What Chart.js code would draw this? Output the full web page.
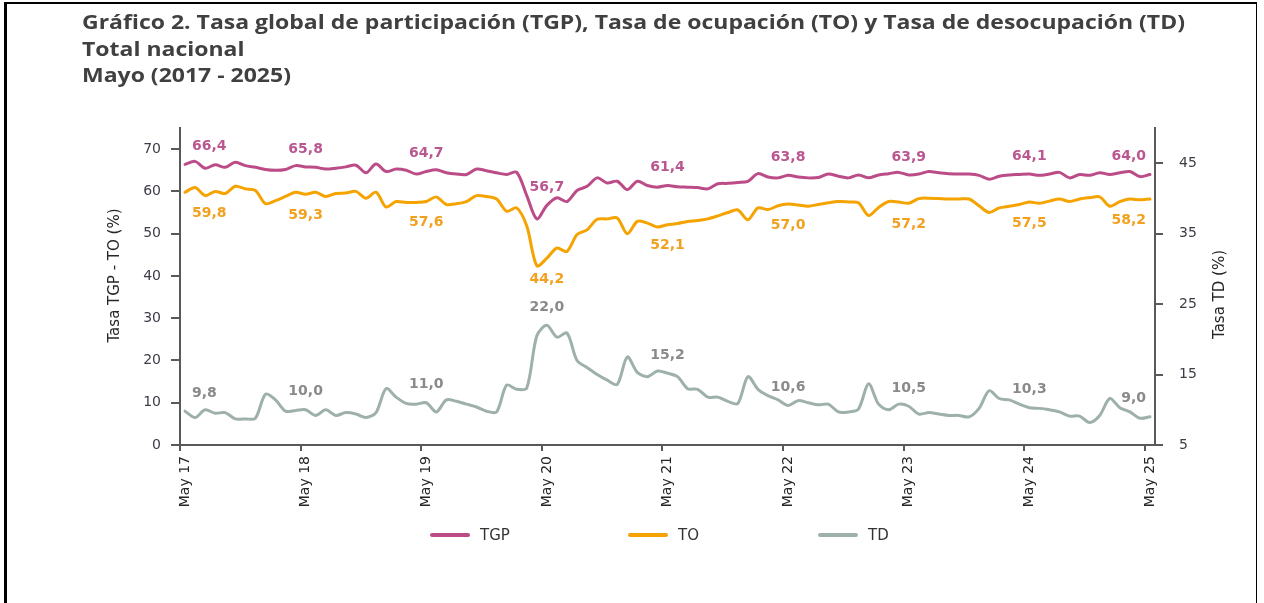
<!DOCTYPE html>
<html>
<head>
<meta charset="utf-8">
<script src="https://cdn.jsdelivr.net/npm/chart.js@4.4.1/dist/chart.umd.min.js"></script>
<style>
html,body{margin:0;padding:0;background:#fff;}
#wrap{position:relative;width:1264px;height:603px;overflow:hidden;background:#fff;}
#frame{position:absolute;left:4px;top:2px;width:1253px;height:700px;border-left:3px solid #000;border-top:2px solid #000;border-right:1px solid #000;box-sizing:border-box;}
#title{position:absolute;left:82px;top:9px;font:700 19px "Open Sans",sans-serif;color:#404040;line-height:26.7px;white-space:nowrap;transform:scaleX(1.21);transform-origin:0 0;}
#chart{position:absolute;left:0;top:0;}
.lg{position:absolute;top:524px;height:22px;display:flex;align-items:center;font:15px "DejaVu Sans",sans-serif;color:#333;}
.lg span{display:inline-block;width:40px;height:4px;margin-right:10px;border-radius:2px;}
</style>
</head>
<body>
<div id="wrap">
  <canvas id="chart" width="1264" height="603"></canvas>
  <div id="frame"></div>
  <div id="title">Gráfico 2. Tasa global de participación (TGP), Tasa de ocupación (TO) y Tasa de desocupación (TD)<br>Total nacional<br>Mayo (2017 - 2025)</div>
  <div class="lg" style="left:430px"><span style="background:#BC4C88"></span>TGP</div>
  <div class="lg" style="left:628px"><span style="background:#F5A300"></span>TO</div>
  <div class="lg" style="left:818px"><span style="background:#9DB0AA"></span>TD</div>
</div>
<script>
// ---- data ----
const monthNames = ['Ene','Feb','Mar','Abr','May','Jun','Jul','Ago','Sep','Oct','Nov','Dic'];
const startYear = 2017, startMonth = 4, nMonths = 97;
const categories = [];
for (let k = 0; k < nMonths; k++) {
  const m = (startMonth + k) % 12;
  const y = startYear + Math.floor((startMonth + k) / 12);
  categories.push(monthNames[m] + ' ' + String(y).slice(2));
}

const tgp = [66.4,67.1,65.5,66.3,65.7,66.9,66.1,65.7,65.2,65.0,65.2,66.1,
             65.8,65.7,65.3,65.5,65.8,66.2,64.4,66.5,64.7,65.3,65.0,64.1,
             64.7,65.1,64.4,64.1,64.0,65.3,64.9,64.4,64.0,64.5,59.0,53.5,
             56.7,58.5,57.6,60.2,61.2,63.2,62.0,62.4,60.4,62.4,61.4,61.0,
             61.4,61.1,61.0,60.9,60.6,61.8,61.9,62.1,62.4,64.2,63.4,63.2,
             63.8,63.4,63.2,63.3,64.1,63.6,63.2,63.9,63.2,63.9,64.2,64.5,
             63.9,64.1,64.7,64.4,64.2,64.1,64.1,63.8,62.9,63.6,63.9,64.0,
             64.1,63.8,64.1,64.5,63.2,64.0,63.8,64.4,64.0,64.4,64.7,63.5,
             64.0];
const to  = [59.8,60.9,59.0,60.0,59.5,61.2,60.6,60.2,57.1,57.8,58.8,59.8,
             59.3,59.8,58.8,59.5,59.6,60.0,58.4,59.8,56.3,57.6,57.4,57.4,
             57.6,58.7,56.9,57.1,57.6,59.0,58.8,58.2,55.3,56.1,51.8,42.4,
             44.2,46.6,45.8,49.8,50.9,53.4,53.5,53.7,50.0,52.9,52.5,51.6,
             52.1,52.4,52.9,53.1,53.5,54.2,55.0,55.6,53.3,56.1,55.7,56.6,
             57.0,56.8,56.5,56.9,57.3,57.6,57.5,57.3,54.3,56.2,57.6,57.5,
             57.2,58.3,58.4,58.3,58.2,58.2,58.2,56.6,55.0,56.1,56.5,56.9,
             57.5,57.2,57.7,58.2,57.6,58.2,58.5,58.7,56.5,57.6,58.2,58.0,
             58.2];
const td  = [9.8,8.9,10.0,9.5,9.6,8.7,8.7,8.8,12.2,11.4,9.8,9.9,
             10.0,9.2,10.0,9.2,9.6,9.4,8.9,9.6,13.0,11.8,10.9,10.8,
             11.0,9.7,11.4,11.2,10.8,10.4,9.8,9.7,13.5,12.9,13.1,20.5,
             22.0,20.3,20.9,17.0,16.0,15.0,14.2,13.6,17.5,15.3,14.7,15.5,
             15.2,14.7,13.0,12.9,11.8,11.8,11.2,10.9,14.7,12.9,12.0,11.4,
             10.6,11.3,11.0,10.7,10.8,9.7,9.7,10.1,13.7,10.8,10.0,10.8,
             10.5,9.4,9.6,9.4,9.2,9.2,9.0,10.2,12.7,11.6,11.4,10.8,
             10.3,10.2,10.0,9.7,9.1,9.1,8.2,9.2,11.6,10.3,9.7,8.8,
             9.0];
const leftTicks = [0,10,20,30,40,50,60,70];
const rightTicks = [5,15,25,35,45];
const labelStep = 12; // values labelled every May
const leftTitle = 'Tasa TGP - TO (%)';
const rightTitle = 'Tasa TD (%)';

// ---- plugins ----
const valueLabels = {
  id: 'valueLabels',
  afterDatasetsDraw(chart) {
    const {ctx, chartArea} = chart;
    chart.data.datasets.forEach((ds, di) => {
      const meta = chart.getDatasetMeta(di);
      ctx.save();
      ctx.font = 'bold 14px "DejaVu Sans"';
      ctx.fillStyle = ds.labelColor;
      ctx.textBaseline = 'middle';
      ctx.textAlign = 'center';
      meta.data.forEach((pt, i) => {
        if (i % labelStep !== 0) return;
        const txt = ds.data[i].toFixed(1).replace('.', ',');
        const w = ctx.measureText(txt).width;
        const x = Math.max(chartArea.left + 12 + w / 2, Math.min(chartArea.right - 9 - w / 2, pt.x));
        ctx.fillText(txt, x, pt.y + ds.labelOffset);
      });
      ctx.restore();
    });
  }
};
const axisTitles = {
  id: 'axisTitles',
  afterDraw(chart) {
    const {ctx, chartArea} = chart;
    const mid = (chartArea.top + chartArea.bottom) / 2;
    ctx.save();
    ctx.font = '15px "DejaVu Sans"';
    ctx.fillStyle = '#262626';
    ctx.textAlign = 'center';
    ctx.textBaseline = 'middle';
    ctx.save();
    ctx.translate(chartArea.left - 65, mid - 11);
    ctx.rotate(-Math.PI / 2);
    ctx.fillText(leftTitle, 0, 0);
    ctx.restore();
    ctx.save();
    ctx.translate(chartArea.right + 65, mid + 8);
    ctx.rotate(-Math.PI / 2);
    ctx.fillText(rightTitle, 0, 0);
    ctx.restore();
    ctx.restore();
  }
};

const axisColor = '#595959';
const tickFont = {family: 'DejaVu Sans', size: 14};

new Chart(document.getElementById('chart'), {
  type: 'line',
  data: {
    labels: categories,
    datasets: [
      {label: 'TGP', data: tgp, yAxisID: 'y', borderColor: '#BC4C88', labelColor: '#BA5790', labelOffset: -18},
      {label: 'TO', data: to, yAxisID: 'y', borderColor: '#F5A300', labelColor: '#F2A11F', labelOffset: 21},
      {label: 'TD', data: td, yAxisID: 'y1', borderColor: '#9DB0AA', labelColor: '#8A8A8A', labelOffset: -18}
    ]
  },
  options: {
    responsive: false,
    animation: false,
    layout: {padding: {top: 128, left: 0, right: 0, bottom: 0}},
    elements: {
      point: {radius: 0, hoverRadius: 0},
      line: {borderWidth: 3, tension: 0.3, fill: false, borderCapStyle: 'round', borderJoinStyle: 'round'}
    },
    plugins: {legend: {display: false}, title: {display: false}, tooltip: {enabled: false}},
    scales: {
      x: {
        type: 'category',
        offset: true,
        afterFit(s) { s.height = 158; },
        border: {color: axisColor, width: 2},
        grid: {
          offset: true,
          drawOnChartArea: false,
          tickLength: 6,
          lineWidth: 2,
          color: (c) => (c.index % labelStep === 0 ? axisColor : 'rgba(0,0,0,0)')
        },
        ticks: {
          autoSkip: false,
          minRotation: 90,
          maxRotation: 90,
          padding: 5,
          color: '#262626',
          font: tickFont,
          callback(v, i) { return i % labelStep === 0 ? this.getLabelForValue(v) : ''; }
        }
      },
      y: {
        position: 'left',
        min: 0, max: 75,
        afterFit(s) { s.width = 180; },
        afterBuildTicks(s) { s.ticks = leftTicks.map(v => ({value: v})); },
        border: {color: axisColor, width: 2},
        grid: {drawOnChartArea: false, tickLength: 9, lineWidth: 2, color: axisColor},
        ticks: {padding: 10, color: '#3D3D48', font: tickFont}
      },
      y1: {
        position: 'right',
        min: 5, max: 50,
        afterFit(s) { s.width = 109; },
        afterBuildTicks(s) { s.ticks = rightTicks.map(v => ({value: v})); },
        border: {color: axisColor, width: 2},
        grid: {drawOnChartArea: false, tickLength: 8, lineWidth: 2, color: axisColor},
        ticks: {padding: 16, color: '#3D3D48', font: tickFont}
      }
    }
  },
  plugins: [valueLabels, axisTitles]
});
</script>
</body>
</html>
